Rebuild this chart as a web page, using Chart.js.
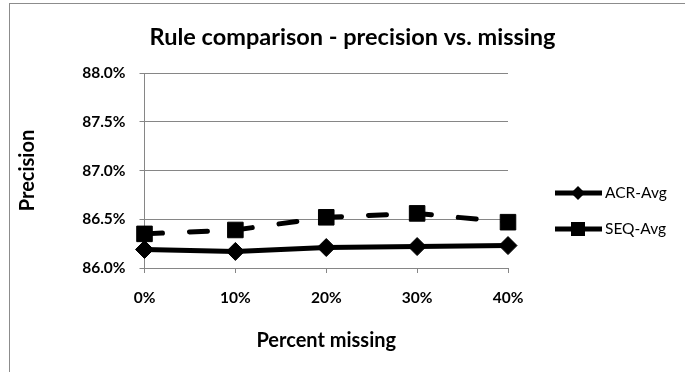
<!DOCTYPE html>
<html>
<head>
<meta charset="utf-8">
<script src="https://cdn.jsdelivr.net/npm/chart.js@4.4.1/dist/chart.umd.min.js"></script>
<style>
  html, body { margin: 0; padding: 0; width: 685px; height: 372px; overflow: hidden; background: #fff; }
  #frame { position: absolute; left: 9px; top: 3px; width: 700px; height: 400px; border-left: 1px solid #8c8c8c; border-top: 1px solid #8c8c8c; }
  #wrap { position: absolute; left: 10px; top: 4px; width: 685px; height: 368px; }
</style>
</head>
<body>
<div id="frame"></div>
<div id="wrap"><canvas id="c" width="685" height="368"></canvas></div>
<script>
const categories = ['0%', '10%', '20%', '30%', '40%'];
const acrAvg = [86.19, 86.17, 86.21, 86.22, 86.23];
const seqAvg = [86.35, 86.39, 86.52, 86.56, 86.47];
const yTickValues = [86.0, 86.5, 87.0, 87.5, 88.0];
const seriesNames = ['ACR-Avg', 'SEQ-Avg'];
const titleText = 'Rule comparison - precision vs. missing';
const xTitle = 'Percent missing';
const yTitle = 'Precision';

const FONT = 'Lato, "Open Sans", sans-serif';
const GRID = '#868686';

const titlePlugin = {
  id: 'centeredTitle',
  afterDraw(chart) {
    const ctx = chart.ctx;
    ctx.save();
    let size = 22;
    ctx.font = 'bold ' + size + 'px ' + FONT;
    const w = ctx.measureText(titleText).width;
    size = size * 406 / w;
    ctx.font = 'bold ' + size.toFixed(2) + 'px ' + FONT;
    ctx.fillStyle = '#000';
    ctx.textAlign = 'center';
    ctx.textBaseline = 'middle';
    ctx.fillText(titleText, chart.width / 2, 33);
    ctx.restore();
  }
};

const legendPlugin = {
  id: 'customLegend',
  afterDraw(chart) {
    const ctx = chart.ctx;
    const rows = [189, 225];
    chart.data.datasets.forEach((ds, i) => {
      const y = rows[i];
      const x0 = 545, x1 = 592, xm = 568;
      ctx.save();
      ctx.strokeStyle = '#000';
      ctx.lineWidth = 5;
      ctx.lineCap = 'butt';
      ctx.beginPath();
      ctx.moveTo(x0, y); ctx.lineTo(x1, y);
      ctx.stroke();
      ctx.fillStyle = '#000';
      ctx.beginPath();
      if (ds.pointStyle === 'rectRot') {
        const r = 7;
        ctx.moveTo(xm, y - r); ctx.lineTo(xm + r, y); ctx.lineTo(xm, y + r); ctx.lineTo(xm - r, y); ctx.closePath();
      } else {
        const h = 7;
        ctx.rect(xm - h, y - h, 2 * h, 2 * h);
      }
      ctx.fill();
      ctx.font = '15.5px ' + FONT;
      ctx.textBaseline = 'middle';
      ctx.textAlign = 'left';
      ctx.fillText(ds.label, 595, y);
      ctx.restore();
    });
  }
};

new Chart(document.getElementById('c'), {
  type: 'line',
  data: {
    labels: categories,
    datasets: [
      {
        label: seriesNames[0],
        data: acrAvg,
        borderColor: '#000',
        backgroundColor: '#000',
        borderWidth: 5,
        pointStyle: 'rectRot',
        pointRadius: 9,
        pointBorderWidth: 1,
        tension: 0
      },
      {
        label: seriesNames[1],
        data: seqAvg,
        borderColor: '#000',
        backgroundColor: '#000',
        borderWidth: 5,
        borderDash: [18, 27],
        borderCapStyle: 'round',
        pointStyle: 'rect',
        pointRadius: 11,
        pointBorderWidth: 1,
        tension: 0
      }
    ]
  },
  options: {
    responsive: false,
    animation: false,
    layout: { padding: { left: 0, right: 187, top: 69, bottom: 0 } },
    plugins: {
      legend: { display: false },
      tooltip: { enabled: false },
      title: { display: false }
    },
    scales: {
      x: {
        type: 'category',
        offset: false,
        grid: { display: true, drawOnChartArea: false, drawTicks: true, tickLength: 5, color: GRID },
        border: { display: true, color: GRID, width: 1 },
        ticks: { color: '#000', font: { family: FONT, size: 15.5, weight: 'bold' }, padding: 16, maxRotation: 0 },
        title: { display: true, text: xTitle, color: '#000', font: { family: FONT, size: 20, weight: 'bold', lineHeight: 1.2 }, padding: { top: 0, bottom: 19 } },
        afterFit(scale) { scale.height = 104; }
      },
      y: {
        min: 86, max: 88,
        afterBuildTicks(scale) { scale.ticks = yTickValues.map(v => ({ value: v })); },
        grid: { color: GRID, tickLength: 5, drawTicks: true },
        border: { display: true, color: GRID, width: 1 },
        ticks: {
          color: '#000',
          font: { family: FONT, size: 15.5, weight: 'bold' },
          padding: 14,
          callback: (v) => Number(v).toFixed(1) + '%'
        },
        title: { display: true, text: yTitle, color: '#000', font: { family: FONT, size: 20, weight: 'bold', lineHeight: 1.2 }, padding: { top: 6, bottom: 0 } },
        afterFit(scale) { scale.width = 134.5; }
      }
    }
  },
  plugins: [titlePlugin, legendPlugin]
});
</script>
</body>
</html>
